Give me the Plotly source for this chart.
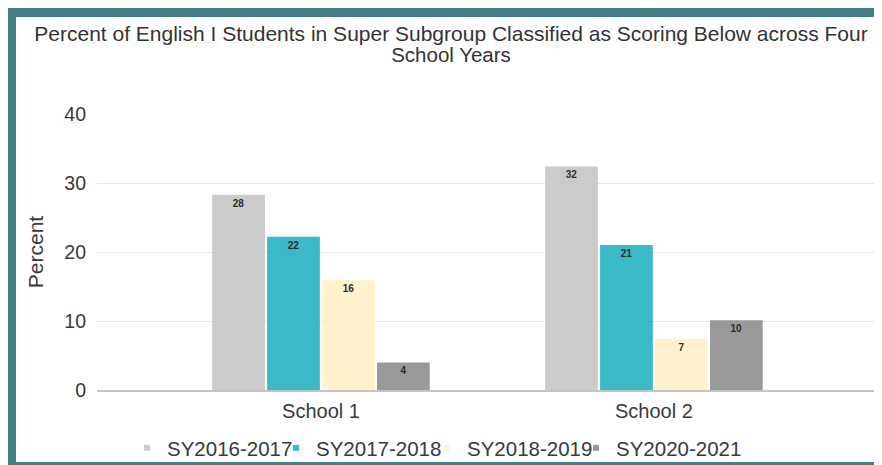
import plotly.graph_objects as go

# ---------------- data ----------------
schools = ["School 1", "School 2"]
years = ["SY2016-2017", "SY2017-2018", "SY2018-2019", "SY2020-2021"]
sy2016_2017 = [28.3, 32.4]
sy2017_2018 = [22.2, 21.0]
sy2018_2019 = [15.9, 7.4]
sy2020_2021 = [4.0, 10.1]
y_ticks = [0, 10, 20, 30, 40]

series = [sy2016_2017, sy2017_2018, sy2018_2019, sy2020_2021]
colors = ["#CBCBCB", "#3CB9C6", "#FFF2CC", "#999999"]

# ---------------- layout geometry ----------------
# The page adds an 8px body margin, so the figure is 8px smaller and all
# reference-page pixel positions are shifted by -8.
OFF = 8
W, H = 882 - OFF, 465 - OFF
L, R, T, B = 97 - OFF, 0, 114 - OFF, 465 - 390
FONT = "Liberation Sans, Arial, sans-serif"
TXT = "#3a3a3a"
FRAME = "#467D86"


def px_x(p):
    """reference-page pixel x -> paper x"""
    return (p - OFF - L) / (W - L - R)


def px_y(p):
    """reference-page pixel y -> paper y"""
    return (H - B - (p - OFF)) / (H - T - B)


fig = go.Figure()

legend_ids = ["legend", "legend2", "legend3", "legend4"]
for name, vals, col, lid in zip(years, series, colors, legend_ids):
    fig.add_trace(go.Bar(
        x=schools, y=vals, name=name, legendgroup=name, showlegend=False,
        marker=dict(color=col, line=dict(width=0)),
        texttemplate="%{y:.0f}", textposition="inside",
        insidetextanchor="end",
        textfont=dict(family=FONT, size=10, color="#2b2b2b", weight="bold"),
        hovertemplate="%{x}<br>" + name + ": %{y:.0f}<extra></extra>",
    ))
    # small square legend key
    fig.add_trace(go.Scatter(
        x=[None], y=[None], mode="markers", name=name, legendgroup=name,
        legend=lid, showlegend=True,
        marker=dict(symbol="square", size=6, color=col),
        hoverinfo="skip",
    ))

# legend text start positions (reference page px)
legend_text_px = [168, 317, 468, 617]
legend_cfg = {}
for lid, tx in zip(legend_ids, legend_text_px):
    legend_cfg[lid] = dict(
        x=px_x(tx - 41), xanchor="left", y=px_y(448), yanchor="middle",
        orientation="h", bgcolor="rgba(0,0,0,0)", borderwidth=0,
        font=dict(family=FONT, size=20.5, color=TXT),
    )

# teal frame (cropped on the right as in the reference), reference page px
frame_rects = [
    (8, 8, 900, 17),    # top band
    (8, 8, 16, 480),    # left band
    (8, 462, 900, 480), # bottom band
]
shapes = []
for x0, y0, x1, y1 in frame_rects:
    shapes.append(dict(type="rect", xref="paper", yref="paper",
                       x0=px_x(x0), x1=px_x(x1), y0=px_y(y1), y1=px_y(y0),
                       fillcolor=FRAME, line=dict(width=0), layer="above"))

title_l1 = "Percent of English I Students in Super Subgroup Classified as Scoring Below across Four"
title_l2 = "School Years"

fig.update_layout(
    width=W, height=H,
    margin=dict(l=L, r=R, t=T, b=B, autoexpand=False),
    paper_bgcolor="white", plot_bgcolor="white",
    barmode="group", bargap=0.34, bargroupgap=0.04,
    font=dict(family=FONT, color=TXT),
    title=dict(
        text=f"<span style='font-size:21px'>{title_l1}</span><br>"
             f"<span style='font-size:20.5px'>{title_l2}</span>",
        font=dict(family=FONT, size=16.2, color="#333333"),
        x=(451 - OFF) / W, xanchor="center", xref="container",
        y=1 - (41 - OFF) / H, yanchor="top", yref="container",
    ),
    xaxis=dict(
        type="category", range=[-0.6727, 1.685],
        showgrid=False, showline=True, linecolor="#C4C4C4", linewidth=2,
        ticks="", tickfont=dict(family=FONT, size=20, color=TXT),
        ticklabelstandoff=2,
    ),
    yaxis=dict(
        range=[0, 40], tickvals=y_ticks, showgrid=True, gridcolor="#E8E8E8",
        gridwidth=1, zeroline=False, showline=False, ticks="",
        tickfont=dict(family=FONT, size=19.5, color=TXT),
        ticklabelstandoff=10,
        title=dict(text="Percent", font=dict(family=FONT, size=21, color=TXT),
                   standoff=14),
    ),
    shapes=shapes,
    showlegend=True,
    **legend_cfg,
)

fig.write_html("out.html")
